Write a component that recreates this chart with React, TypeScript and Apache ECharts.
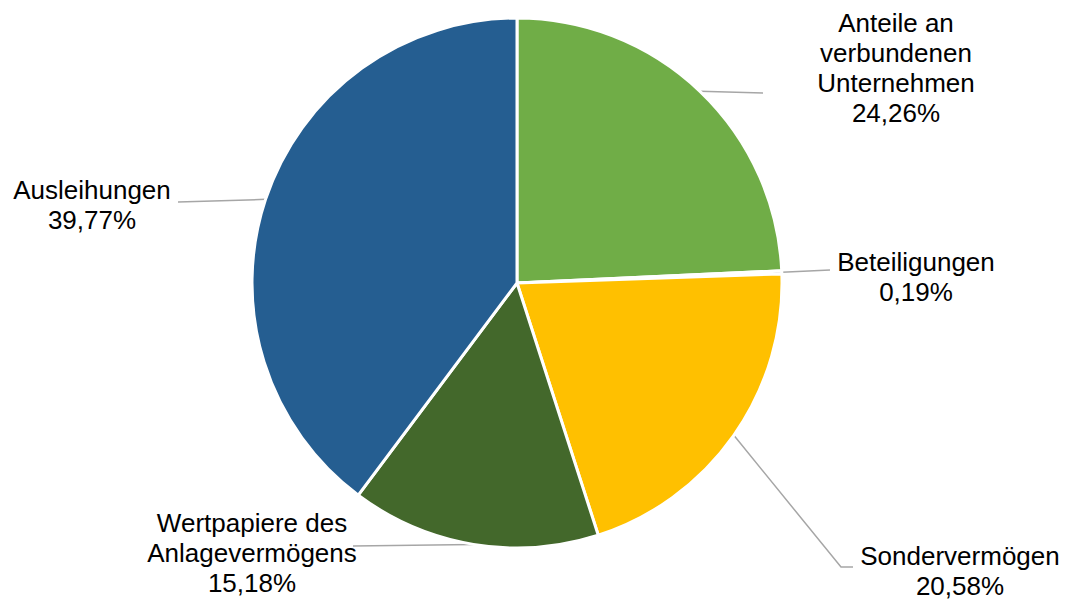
import React, { useEffect, useRef } from "react";
import * as echarts from "echarts";

// Data
const categories = [
  "Anteile an\nverbundenen\nUnternehmen",
  "Beteiligungen",
  "Sondervermögen",
  "Wertpapiere des\nAnlagevermögens",
  "Ausleihungen",
];
const shares = [24.26, 0.19, 20.58, 15.18, 39.77];
const colors = ["#70AD47", "#A5A5A5", "#FFC000", "#43682B", "#255E91"];

// Layout of labels (center of text block) and leader line bends
const labelCenters: number[][] = [
  [896, 68],
  [916, 277],
  [960, 571],
  [252, 553],
  [92, 205],
];
const lineBends: number[][][] = [
  [[763, 93]],
  [[830, 270]],
  [[841, 567], [853, 567]],
  [[353, 546]],
  [[178, 202]],
];

export default function App() {
  const ref = useRef<HTMLDivElement>(null);
  useEffect(() => {
    if (!ref.current) return;
    const chart = echarts.init(ref.current, undefined, { renderer: "svg" });
    chart.setOption({
      animation: false,
      backgroundColor: "#ffffff",
      series: [
        {
          type: "pie",
          center: [517, 283],
          radius: 265,
          startAngle: 90,
          clockwise: true,
          avoidLabelOverlap: false,
          data: categories.map((c, i) => ({
            name: c,
            value: shares[i],
            itemStyle: { color: colors[i] },
          })),
          itemStyle: { borderColor: "#ffffff", borderWidth: 3 },
          label: {
            show: true,
            position: "outside",
            fontFamily: "Liberation Sans, Arial, sans-serif",
            fontSize: 26,
            lineHeight: 30,
            color: "#000000",
            align: "center",
            formatter: (p: any) =>
              p.name + "\n" + p.value.toFixed(2).replace(".", ",") + "%",
          },
          labelLine: {
            show: true,
            lineStyle: { color: "#A6A6A6", width: 1.5 },
          },
          labelLayout: (params: any) => {
            const i = params.dataIndex;
            const anchor = params.labelLinePoints
              ? params.labelLinePoints[0]
              : null;
            const out: any = {
              x: labelCenters[i][0],
              y: labelCenters[i][1],
              align: "center",
              verticalAlign: "middle",
            };
            if (anchor) {
              out.labelLinePoints = [anchor, ...lineBends[i]];
            }
            return out;
          },
        },
      ],
    });
    return () => chart.dispose();
  }, []);
  return (
    <div
      ref={ref}
      style={{ position: "fixed", left: 0, top: 0, width: 1069, height: 600 }}
    />
  );
}
